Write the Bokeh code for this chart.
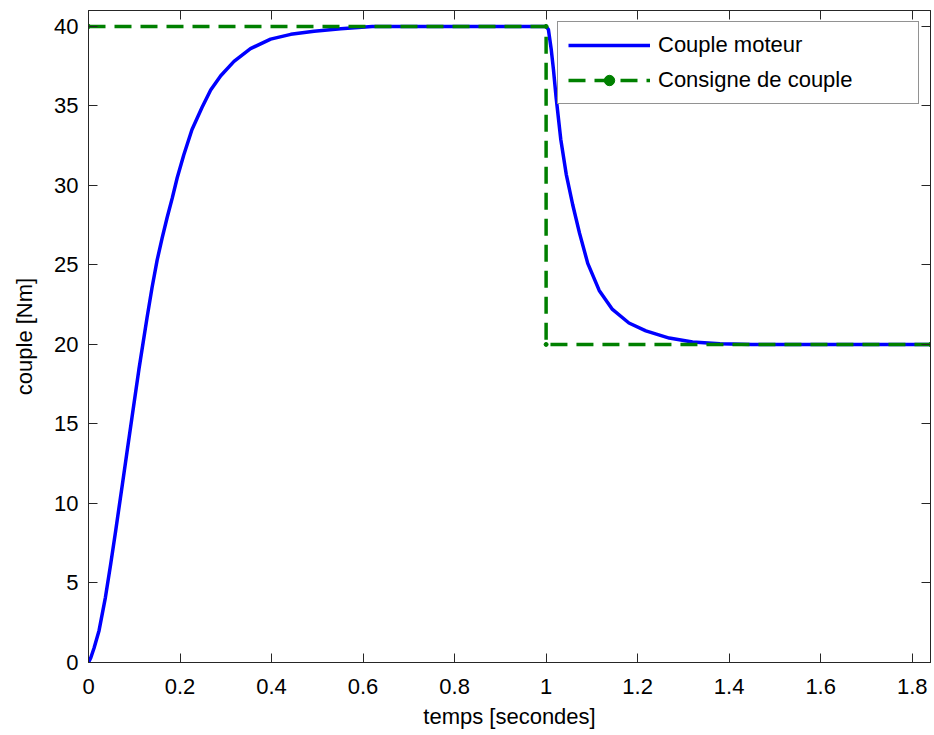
from bokeh.plotting import figure
from bokeh.models import Range1d, LinearAxis, FixedTicker, Legend, LegendItem
from bokeh.embed import file_html
from bokeh.resources import INLINE

# ---- data ----
t_couple = [0, 0.005, 0.012, 0.023, 0.037, 0.048, 0.059, 0.066, 0.074, 0.084, 0.095,
            0.110, 0.128, 0.139, 0.150, 0.161, 0.172, 0.183, 0.194, 0.208, 0.226,
            0.248, 0.267, 0.289, 0.318, 0.354, 0.398, 0.442, 0.493, 0.551, 0.62,
            1.0, 1.005, 1.011, 1.016, 1.022, 1.032, 1.044, 1.058, 1.073, 1.091,
            1.116, 1.145, 1.181, 1.218, 1.269, 1.32, 1.38, 1.45, 1.84]
couple_moteur = [0, 0.3, 0.9, 2.0, 4.1, 6.1, 8.2, 9.6, 11.2, 13.2, 15.4,
                 18.4, 21.7, 23.6, 25.3, 26.7, 28.0, 29.2, 30.5, 31.9, 33.5,
                 34.9, 36.0, 36.9, 37.8, 38.6, 39.2, 39.5, 39.7, 39.85, 40.0,
                 40.0, 39.8, 38.6, 37.3, 35.5, 32.9, 30.7, 28.8, 27.0, 25.1,
                 23.4, 22.2, 21.35, 20.85, 20.4, 20.15, 20.05, 20.0, 20.0]
t_consigne = [0, 1.0, 1.0, 1.84]
consigne = [40, 40, 20, 20]

x_ticks = [0, 0.2, 0.4, 0.6, 0.8, 1.0, 1.2, 1.4, 1.6, 1.8]
x_tick_labels = ["0", "0.2", "0.4", "0.6", "0.8", "1", "1.2", "1.4", "1.6", "1.8"]
y_ticks = [0, 5, 10, 15, 20, 25, 30, 35, 40]
y_tick_labels = ["0", "5", "10", "15", "20", "25", "30", "35", "40"]

FONT = "Liberation Sans"
FS = "22px"
FRAME = "#262626"

p = figure(width=934, height=735, output_backend="svg", toolbar_location=None,
           x_range=Range1d(0, 1.84), y_range=Range1d(0, 41.0),
           min_border_left=88, min_border_right=4, min_border_top=10, min_border_bottom=73,
           x_axis_label="temps [secondes]", y_axis_label="couple [Nm]")
p.grid.visible = False
p.outline_line_color = FRAME
p.outline_line_width = 1
p.background_fill_color = "white"
p.border_fill_color = "white"

def style_axis(ax, ticks, labels=None, show_labels=True):
    ax.ticker = FixedTicker(ticks=ticks)
    ax.axis_line_color = FRAME
    ax.major_tick_line_color = FRAME
    ax.major_tick_in = 9
    ax.major_tick_out = 0
    ax.minor_tick_in = 0
    ax.minor_tick_out = 0
    if show_labels:
        ax.major_label_overrides = {tk: lb for tk, lb in zip(ticks, labels)}
        ax.major_label_text_font = FONT
        ax.major_label_text_font_size = FS
        ax.major_label_text_color = "black"
        ax.axis_label_text_font = FONT
        ax.axis_label_text_font_size = FS
        ax.axis_label_text_font_style = "normal"
        ax.axis_label_text_color = "black"
    else:
        ax.major_label_overrides = {tk: "" for tk in ticks}
        ax.major_label_text_font_size = "1px"
        ax.major_label_standoff = 0

xa = p.xaxis[0]
style_axis(xa, x_ticks, x_tick_labels)
xa.major_label_standoff = 16
xa.axis_label_standoff = 7

ya = p.yaxis[0]
style_axis(ya, y_ticks, y_tick_labels)
ya.major_label_standoff = 10
ya.axis_label_standoff = 14

top_ax = LinearAxis()
style_axis(top_ax, x_ticks, show_labels=False)
p.add_layout(top_ax, "above")
right_ax = LinearAxis()
style_axis(right_ax, y_ticks, show_labels=False)
p.add_layout(right_ax, "right")

r_blue = p.line(t_couple, couple_moteur, line_color="#0000ff", line_width=3.5)
r_green = p.line(t_consigne, consigne, line_color="#008000", line_width=3.5,
                 line_dash="17 9")
r_mark = p.scatter(t_consigne, consigne, marker="circle", size=4,
                   fill_color="#008000", line_color="#008000")

legend = Legend(items=[LegendItem(label="Couple moteur", renderers=[r_blue]),
                       LegendItem(label="Consigne de couple", renderers=[r_green, r_mark])],
                location="top_right")
legend.label_text_font = FONT
legend.label_text_font_size = FS
legend.label_text_color = "black"
legend.border_line_color = FRAME
legend.border_line_width = 1
legend.background_fill_alpha = 1.0
legend.glyph_width = 82
legend.glyph_height = 26
legend.label_height = 26
legend.label_width = 250
legend.spacing = 9
legend.padding = 10
legend.margin = 11
legend.label_standoff = 8
p.add_layout(legend, "center")

open("out.html", "w").write(file_html(p, INLINE))
